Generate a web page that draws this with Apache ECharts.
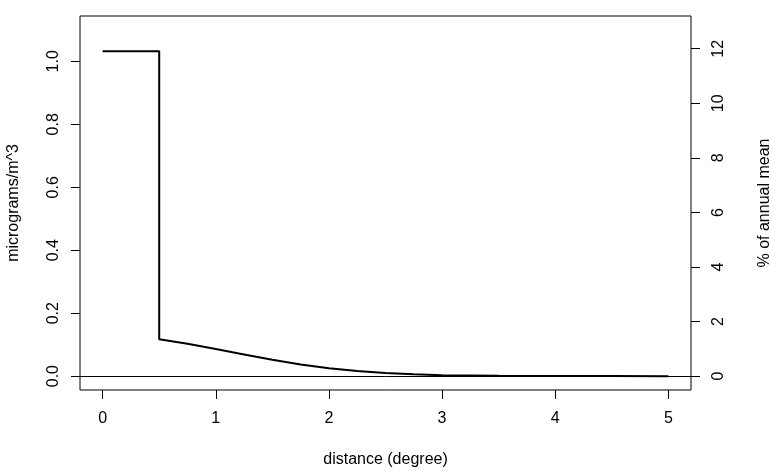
<!DOCTYPE html>
<html>
<head>
<meta charset="utf-8">
<script src="https://cdn.jsdelivr.net/npm/echarts@6/dist/echarts.min.js"></script>
<style>
html,body{margin:0;padding:0;background:#fff;}
#chart{width:771px;height:471px;}
</style>
</head>
<body>
<div id="chart"></div>
<script>
// Data
var stepX = [0, 0.5, 0.5];
var stepY = [1.032, 1.032, 0.117];
var decayX = [0.5, 0.75, 1.0, 1.25, 1.5, 1.75, 2.0, 2.25, 2.5, 2.75, 3.0, 3.25, 3.5, 4.0, 4.5, 5.0];
var decayY = [0.117, 0.103, 0.086, 0.069, 0.052, 0.037, 0.025, 0.016, 0.010, 0.006, 0.003, 0.002, 0.001, 0.0004, 0.0001, 0.0];
var xTicks = [0, 1, 2, 3, 4, 5];
var leftTicks = [0, 0.2, 0.4, 0.6, 0.8, 1.0];
var rightTicks = [0, 2, 4, 6, 8, 10, 12];

var lineData = [];
for (var i = 0; i < stepX.length; i++) lineData.push([stepX[i], stepY[i]]);
for (var j = 1; j < decayX.length; j++) lineData.push([decayX[j], decayY[j]]);

var FONT = 'Liberation Sans, Arial, Helvetica, sans-serif';
var chart = echarts.init(document.getElementById('chart'), null, {renderer: 'canvas'});
chart.setOption({
  animation: false,
  backgroundColor: '#fff',
  grid: {left: 80, right: 80, top: 16, bottom: 81, show: true, borderColor: '#000', borderWidth: 1,
    backgroundColor: 'transparent', containLabel: false, outerBoundsMode: 'none'},
  xAxis: {
    type: 'value', min: -0.2, max: 5.2,
    name: 'distance (degree)', nameLocation: 'middle', nameGap: 62,
    nameTextStyle: {color: '#000', fontSize: 16, fontFamily: FONT},
    axisLine: {show: false, onZero: false},
    splitLine: {show: false},
    axisTick: {show: true, inside: false, length: 9, lineStyle: {color: '#000', width: 1}, customValues: xTicks},
    axisLabel: {color: '#000', fontSize: 16, fontFamily: FONT, margin: 21, customValues: xTicks}
  },
  yAxis: [{
    type: 'value', min: -0.044, max: 1.144, position: 'left',
    name: 'micrograms/m^3', nameLocation: 'middle', nameGap: 58,
    nameTextStyle: {color: '#000', fontSize: 16, fontFamily: FONT},
    axisLine: {show: false, onZero: false},
    splitLine: {show: false},
    axisTick: {show: true, inside: false, length: 9, lineStyle: {color: '#000', width: 1}, customValues: leftTicks},
    axisLabel: {color: '#000', fontSize: 16, fontFamily: FONT, rotate: 90, margin: 18, customValues: leftTicks,
      formatter: function (v) { return v.toFixed(1); }}
  }, {
    type: 'value', min: -0.508, max: 13.2, position: 'right',
    name: '% of annual mean', nameLocation: 'middle', nameGap: 66,
    nameTextStyle: {color: '#000', fontSize: 16, fontFamily: FONT},
    axisLine: {show: false, onZero: false},
    splitLine: {show: false},
    axisTick: {show: true, inside: false, length: 9, lineStyle: {color: '#000', width: 1}, customValues: rightTicks},
    axisLabel: {color: '#000', fontSize: 16, fontFamily: FONT, rotate: 90, margin: 20, customValues: rightTicks}
  }],
  series: [{
    type: 'line',
    data: lineData,
    showSymbol: false,
    symbol: 'none',
    lineStyle: {color: '#000', width: 2},
    z: 3,
    markLine: {
      silent: true, symbol: ['none', 'none'],
      label: {show: false},
      lineStyle: {color: '#000', width: 1, type: 'solid'},
      data: [{yAxis: 0}]
    }
  }]
});
</script>
</body>
</html>
